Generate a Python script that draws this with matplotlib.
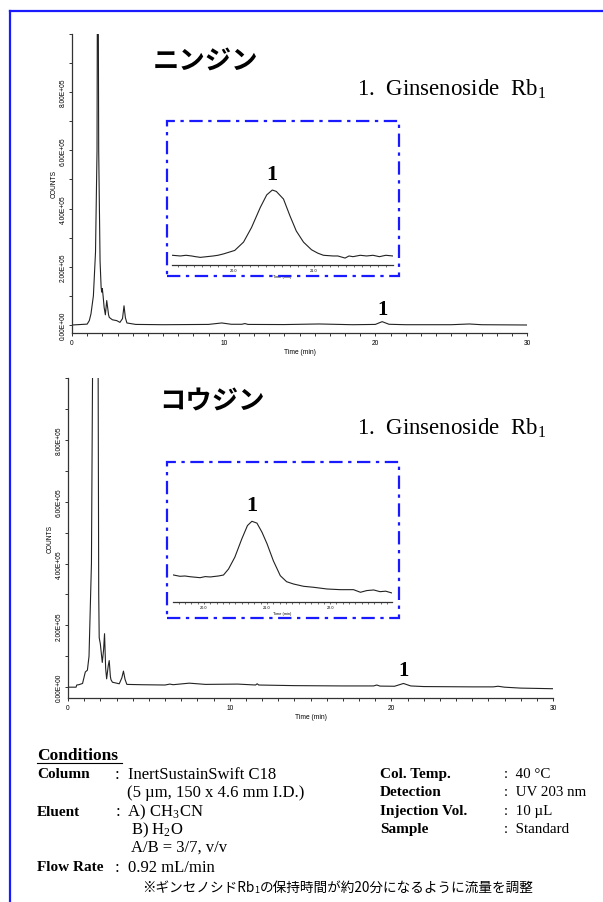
import matplotlib
matplotlib.use("Agg")
import matplotlib.pyplot as plt
import matplotlib.ticker as mticker
from matplotlib.lines import Line2D
from matplotlib.patches import Rectangle
import numpy as np

plt.rcParams['font.family'] = ['Liberation Sans', 'DejaVu Sans']
plt.rcParams['mathtext.fontset'] = 'custom'
plt.rcParams['mathtext.rm'] = 'Liberation Serif'
plt.rcParams['mathtext.it'] = 'Liberation Serif:italic'
plt.rcParams['mathtext.bf'] = 'Liberation Serif:bold'

# ---- data ----
# ginseng (ニンジン), time in min, counts
t_nin = [0, 1.0, 1.14, 1.25, 1.41, 1.55, 1.65, 1.68, 1.72, 1.76, 1.85, 1.92, 1.96, 2.0,
         2.05, 2.12, 2.2, 2.29, 2.35, 2.41, 2.46, 2.66, 2.95, 3.16, 3.33, 3.43, 3.52,
         3.62, 4.2, 6.0, 9.0, 9.87, 10.5, 11.2, 11.4, 11.6, 14.0, 16.3, 18.5, 20.0,
         20.45, 20.9, 22.0, 25.0, 26.2, 27.0, 30.0]
c_nin = [0, 3e3, 1.5e4, 3.8e4, 1.0e5, 2.5e5, 6e5, 1.3e6, 1.3e6, 6e5, 2.2e5, 1.3e5, 1.13e5,
         1.25e5, 1.0e5, 6e4, 3.5e4, 8.4e4, 6e4, 3.5e4, 2.6e4, 1.8e4, 1.5e4, 9e3, 2.2e4,
         6.6e4, 2.5e4, 7e3, 2e3, 1e3, 2e3, 7e3, 2.5e3, 2.5e3, 5e3, 2e3, 1.5e3, 3.5e3, 1e3,
         2e3, 1.15e4, 2.5e3, 1e3, 1e3, 3.5e3, 1e3, 0]

# red ginseng (コウジン)
t_kou = [0, 0.5, 0.54, 0.67, 0.9, 1.07, 1.2, 1.3, 1.45, 1.55, 1.62, 1.79, 1.85, 1.9,
         1.93, 2.0, 2.12, 2.2, 2.26, 2.33, 2.39, 2.49, 2.55, 2.62, 2.66, 2.75, 3.17,
         3.33, 3.43, 3.53, 3.64, 4.5, 6.0, 6.3, 6.5, 7.5, 8.5, 10.5, 11.6, 11.7, 11.8,
         14.0, 17.0, 18.9, 19.1, 19.3, 20.2, 20.75, 21.2, 22.0, 25.0, 26.3, 26.6, 27.0,
         28.0, 30.0]
c_kou = [0, 0, 7e3, 8e3, 1.2e4, 4.9e4, 5.5e4, 1.0e5, 4e5, 1.3e6, 1.3e6, 1.3e6, 1.3e6,
         3e5, 1.6e5, 1.4e5, 8e4, 1.2e5, 1.73e5, 6e4, 2.7e4, 7e4, 8.6e4, 3.5e4, 2.4e4,
         1.6e4, 1.1e4, 3e4, 5.2e4, 2.5e4, 9e3, 8e3, 7e3, 1e4, 8e3, 1.3e4, 9e3, 1.0e4,
         7e3, 1.1e4, 7e3, 5e3, 4e3, 4e3, 7e3, 3.5e3, 3e3, 1.2e4, 4e3, 2e3, 1e3, 1e3,
         3e3, 0, -3e3, -5e3]

# inset zooms around peak 1 (counts in thousands)
ti_nin = [19.23, 19.33, 19.40, 19.47, 19.52, 19.58, 19.66, 19.74, 19.8, 19.87, 20.01,
          20.12, 20.22, 20.33, 20.41, 20.48, 20.53, 20.62, 20.7, 20.78, 20.87, 20.97,
          21.05, 21.12, 21.24, 21.3, 21.39, 21.44, 21.49, 21.58, 21.66, 21.74, 21.82,
          21.9, 21.99]
ci_nin = [2.1, 2.0, 2.1, 2.0, 1.9, 1.8, 1.9, 2.0, 2.1, 2.3, 2.8, 4.0, 6.1, 9.0, 10.8,
          11.5, 11.3, 10.2, 7.8, 5.6, 4.0, 2.9, 2.4, 2.1, 2.0, 2.0, 1.7, 2.0, 1.9, 2.1,
          2.0, 2.1, 1.9, 2.1, 2.0]

ti_kou = [19.5, 19.62, 19.7, 19.78, 19.86, 19.94, 20.02, 20.1, 20.23, 20.31, 20.39,
          20.49, 20.6, 20.69, 20.76, 20.84, 20.92, 21.0, 21.1, 21.21, 21.31, 21.42,
          21.58, 21.74, 21.95, 22.16, 22.37, 22.48, 22.58, 22.69, 22.79, 22.88, 22.98]
ci_kou = [3.2, 2.95, 3.0, 2.88, 2.8, 2.72, 2.9, 2.84, 3.0, 3.16, 4.15, 6.1, 9.1, 11.3,
          12.0, 11.7, 10.2, 8.3, 5.5, 3.05, 2.06, 1.68, 1.3, 1.14, 0.86, 0.75, 0.75,
          0.32, 0.6, 0.7, 0.42, 0.5, 0.2]

y_major = [0, 2e5, 4e5, 6e5, 8e5]
x_major = [0, 10, 20, 30]

GRAY = '#333333'
BLUE = '#1a1aff'


def style_main(ax, ylim):
    ax.set_xlim(0, 30)
    ax.set_ylim(*ylim)
    for s in ['top', 'right']:
        ax.spines[s].set_visible(False)
    for s in ['left', 'bottom']:
        ax.spines[s].set_color(GRAY)
        ax.spines[s].set_linewidth(0.9)
    ax.set_xticks(x_major)
    ax.xaxis.set_minor_locator(mticker.MultipleLocator(1))
    ax.set_yticks(y_major)
    ax.yaxis.set_minor_locator(mticker.FixedLocator(np.arange(0, 1.01e6, 1e5)))
    ax.yaxis.set_major_formatter(mticker.FuncFormatter(lambda v, p: f"{v:.2E}"))
    ax.tick_params(which='both', direction='out', length=2.5, width=0.7,
                   color=GRAY, labelsize=4.8, pad=1.5)
    for lab in ax.get_yticklabels():
        lab.set_rotation(90)
        lab.set_va('center')
    ax.set_ylabel('COUNTS', fontsize=4.8, labelpad=1)
    ax.set_xlabel('Time (min)', fontsize=4.8, labelpad=2)


def style_inset(ax, xlim, ylim, ticks):
    ax.set_xlim(*xlim)
    ax.set_ylim(*ylim)
    ax.patch.set_alpha(0)
    for s in ['top', 'right', 'left']:
        ax.spines[s].set_visible(False)
    ax.spines['bottom'].set_color(GRAY)
    ax.spines['bottom'].set_linewidth(0.9)
    ax.set_yticks([])
    ax.set_xticks(ticks)
    ax.set_xticklabels([f"{v:.1f}" for v in ticks])
    ax.xaxis.set_minor_locator(mticker.MultipleLocator(0.1))
    ax.tick_params(which='both', direction='out', length=1.5, width=0.5,
                   color=GRAY, labelsize=2.8, pad=1)
    ax.set_xlabel('Time (min)', fontsize=2.8, labelpad=1)


fig = plt.figure(figsize=(6.03, 9.03), dpi=100)
W, H = 603.0, 903.0


def fx(px):
    return px / W


def fy(py):
    return 1 - py / H


# blue page frame
fig.add_artist(Line2D([fx(9.5), fx(9.5)], [fy(12), 0], color=BLUE, lw=1.6))
fig.add_artist(Line2D([fx(9.5), 1], [fy(12), fy(12)], color=BLUE, lw=1.6))

# ---- top chromatogram ----
ax1 = fig.add_axes([fx(72), fy(334), fx(527) - fx(72), fy(35) - fy(334)])
ax1.plot(t_nin, c_nin, color='#222222', lw=0.8)
style_main(ax1, (-2.75e4, 1.0e6))
ax1.text(20.45, 2.2e4, '1', ha='center', va='bottom', fontsize=15,
         family='Liberation Serif', weight='bold')

# ---- bottom chromatogram ----
ax2 = fig.add_axes([fx(68), fy(699), fx(553) - fx(68), fy(379) - fy(699)])
ax2.plot(t_kou, c_kou, color='#222222', lw=0.8)
style_main(ax2, (-3.5e4, 1.0e6))
ax2.text(20.75, 2.2e4, '1', ha='center', va='bottom', fontsize=15,
         family='Liberation Serif', weight='bold')

# titles
fig.text(fx(153), fy(61), 'ニンジン', fontsize=19, weight='bold',
         family=['Noto Sans CJK JP', 'DejaVu Sans'], va='center', ha='left')
fig.text(fx(159), fy(402), 'コウジン', fontsize=19, weight='bold',
         family=['Noto Sans CJK JP', 'DejaVu Sans'], va='center', ha='left')
for yy in (89, 428):
    fig.text(fx(357), fy(yy), r'1.  Ginsenoside  $\mathrm{Rb_1}$', fontsize=16.5,
             family='Liberation Serif', va='center', ha='left')

# ---- insets ----
for box in [(167, 122, 399, 277), (167, 463, 399, 619)]:
    x0, y0, x1, y1 = box
    fig.add_artist(Rectangle((fx(x0), fy(y1)), fx(x1) - fx(x0), fy(y0) - fy(y1),
                             transform=fig.transFigure, fill=False, edgecolor=BLUE,
                             lw=1.6, linestyle=(0, (6, 2.5, 1.5, 2.5))))

in1 = fig.add_axes([fx(172), fy(266), fx(393) - fx(172), fy(170) - fy(266)])
in1.plot(ti_nin, ci_nin, color='#222222', lw=0.8)
style_inset(in1, (19.225, 21.99), (0.70, 14.53), [20.0, 21.0])
in1.text(20.48, 12.4, '1', ha='center', va='bottom', fontsize=16,
         family='Liberation Serif', weight='bold')

in2 = fig.add_axes([fx(173), fy(603), fx(392) - fx(173), fy(495) - fy(603)])
in2.plot(ti_kou, ci_kou, color='#222222', lw=0.8)
style_inset(in2, (19.51, 22.98), (-1.28, 16.49), [20.0, 21.0, 22.0])
in2.text(20.76, 13.0, '1', ha='center', va='bottom', fontsize=16,
         family='Liberation Serif', weight='bold')

# ---- conditions ----
serif = 'Liberation Serif'
fs_k = 11
rows = [756, 775, 793, 812, 830, 848, 868, 888]
fig.text(fx(37), fy(rows[0]), 'Conditions', fontsize=12.5, weight='bold',
         family=serif, va='center')
fig.add_artist(Line2D([fx(37), fx(122)], [fy(rows[0] + 8), fy(rows[0] + 8)],
                      color='black', lw=0.8))
left_keys = [('Column', 1), ('Eluent', 3), ('Flow Rate', 6)]
for k, r in left_keys:
    fig.text(fx(37), fy(rows[r]), k, fontsize=fs_k, weight='bold', family=serif,
             va='center')
left_vals = [(':  InertSustainSwift C18', 1, 115),
             ('(5 µm, 150 x 4.6 mm I.D.)', 2, 127),
             (r':  A) $\mathrm{CH_3CN}$', 3, 115),
             (r'B) $\mathrm{H_2O}$', 4, 131),
             ('A/B = 3/7, v/v', 5, 131),
             (':  0.92 mL/min', 6, 115)]
for v, r, x in left_vals:
    fig.text(fx(x), fy(rows[r]), v, fontsize=12, family=serif, va='center')

right = [('Col. Temp.', ':  40 °C'), ('Detection', ':  UV 203 nm'),
         ('Injection Vol.', ':  10 µL'), ('Sample', ':  Standard')]
for i, (k, v) in enumerate(right):
    fig.text(fx(380), fy(rows[i + 1]), k, fontsize=fs_k, weight='bold', family=serif,
             va='center')
    fig.text(fx(504), fy(rows[i + 1]), v, fontsize=10.8, family=serif, va='center')

# note line with subscript
jp = ['Noto Sans CJK JP', 'DejaVu Sans']
fig.canvas.draw()
r = fig.canvas.get_renderer()
t1 = fig.text(fx(142), fy(rows[7]), '※ギンセノシドRb', fontsize=9.8, family=jp,
              va='center')
x_end = t1.get_window_extent(renderer=r).x1 / W
t2 = fig.text(x_end, fy(rows[7] + 3), '1', fontsize=6.5, family=jp, va='center')
x_end2 = t2.get_window_extent(renderer=r).x1 / W
fig.text(x_end2, fy(rows[7]), 'の保持時間が約20分になるように流量を調整', fontsize=9.8,
         family=jp, va='center')

fig.savefig('out.png', dpi=100)
